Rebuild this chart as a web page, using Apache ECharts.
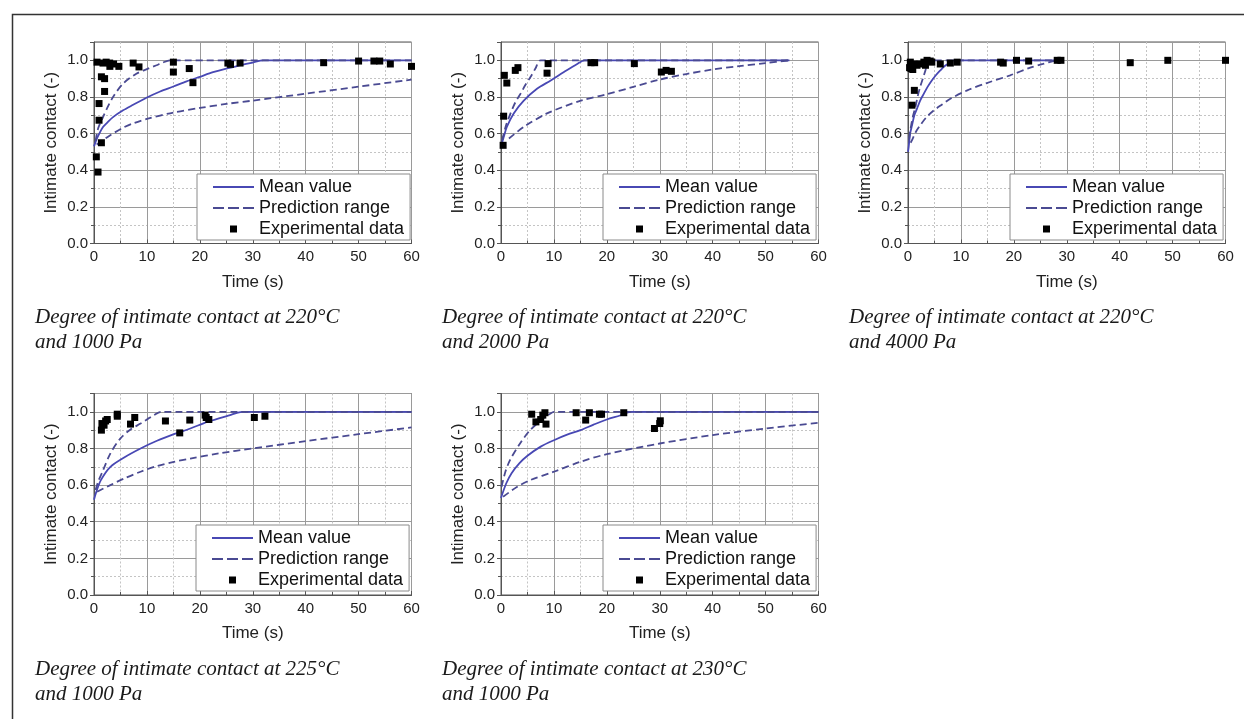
<!DOCTYPE html>
<html>
<head>
<meta charset="utf-8">
<script src="https://cdn.jsdelivr.net/npm/echarts@6/dist/echarts.min.js"></script>
<style>
html,body{margin:0;padding:0;background:#ffffff;}
#chart{width:1244px;height:719px;}
</style>
</head>
<body>
<div id="chart"></div>
<script>
// ---------- data ----------
const seriesNames = ['Mean value', 'Prediction range', 'Experimental data'];
const xAxisName = 'Time (s)';
const yAxisName = 'Intimate contact (-)';
const captionLine1 = [
  'Degree of intimate contact at 220°C',
  'Degree of intimate contact at 220°C',
  'Degree of intimate contact at 220°C',
  'Degree of intimate contact at 225°C',
  'Degree of intimate contact at 230°C'
];
const captionLine2 = ['and 1000 Pa', 'and 2000 Pa', 'and 4000 Pa', 'and 1000 Pa', 'and 1000 Pa'];

// Panel 1: 220 °C, 1000 Pa
const p1Mean = [[0,0.53],[0.5,0.57],[1,0.6],[1.7,0.636],[2.5,0.66],[3.6,0.69],[5.5,0.727],[7.4,0.757],[10,0.797],[12.5,0.83],[15,0.857],[17.5,0.885],[20,0.91],[22.5,0.935],[25,0.955],[27.5,0.972],[30,0.988],[32,1.0],[60,1.0]];
const p1Upper = [[0.3,0.56],[0.8,0.63],[1.7,0.69],[2.5,0.74],[3.6,0.8],[5.5,0.873],[8,0.927],[10,0.952],[11.8,0.973],[13,0.988],[14.5,1.0],[60,1.0]];
const p1Lower = [[0.5,0.54],[1.5,0.56],[3,0.59],[5.5,0.632],[7.5,0.657],[10,0.68],[15,0.715],[20,0.74],[25,0.762],[30,0.78],[40,0.818],[50,0.856],[60,0.895]];
const p1Exp = [[0.44,0.473],[0.76,0.39],[1.4,0.55],[0.95,0.673],[0.95,0.764],[2.0,0.83],[1.4,0.91],[2.0,0.9],[0.57,0.99],[1.7,0.985],[2.3,0.99],[2.96,0.985],[3.0,0.967],[3.7,0.98],[4.7,0.967],[7.4,0.985],[8.5,0.964],[15,0.99],[15,0.936],[18,0.955],[18.7,0.878],[25.3,0.985],[25.8,0.978],[27.6,0.985],[43.4,0.987],[50,0.996],[52.9,0.996],[54,0.996],[56,0.98],[60,0.967]];

// Panel 2: 220 °C, 2000 Pa
const p2Mean = [[0,0.53],[0.5,0.58],[1.1,0.636],[2.4,0.71],[4.3,0.78],[6.8,0.845],[9.4,0.89],[11.9,0.936],[14.4,0.98],[15.8,1.0],[54.5,1.0]];
const p2Upper = [[0.2,0.564],[1,0.65],[1.8,0.71],[2.7,0.77],[3.7,0.818],[4.6,0.865],[5.6,0.91],[6.5,0.955],[7.5,1.0],[54.5,1.0]];
const p2Lower = [[1.5,0.573],[4.3,0.636],[8.7,0.71],[15.1,0.78],[20,0.815],[25,0.855],[30,0.895],[35,0.925],[40,0.95],[45,0.968],[50,0.985],[54.5,1.0]];
const p2Exp = [[0.63,0.918],[1.1,0.876],[0.5,0.695],[0.4,0.536],[2.7,0.945],[3.2,0.96],[8.7,0.93],[8.9,0.982],[17,0.987],[17.7,0.987],[25.2,0.982],[30.3,0.936],[31.2,0.945],[32.2,0.94]];

// Panel 3: 220 °C, 4000 Pa
const p3Mean = [[0,0.5],[0.13,0.527],[0.4,0.6],[0.76,0.645],[1.2,0.7],[1.7,0.736],[2.3,0.78],[3,0.818],[3.7,0.855],[4.5,0.89],[5.3,0.92],[6.1,0.945],[7,0.97],[8,0.99],[8.7,1.0],[28,1.0]];
const p3Upper = [[0.2,0.57],[0.44,0.618],[0.9,0.69],[1.4,0.745],[1.8,0.8],[2.3,0.855],[2.8,0.9],[3.3,0.945],[3.9,1.0],[28,1.0]];
const p3Lower = [[0.5,0.55],[0.76,0.564],[1.5,0.61],[2.3,0.645],[3.5,0.69],[4.9,0.727],[6.5,0.76],[8,0.79],[11.2,0.836],[14.9,0.876],[19.3,0.918],[23.1,0.96],[25.5,0.98],[28,1.0]];
const p3Exp = [[0.3,0.96],[0.44,0.99],[0.76,0.973],[0.9,0.95],[1.1,0.98],[1.7,0.973],[2.3,0.98],[3,0.99],[3.3,0.973],[3.6,1.0],[4.2,0.996],[4.5,0.99],[6.1,0.98],[8,0.985],[9.3,0.99],[0.57,0.955],[1.2,0.836],[0.76,0.755],[17.5,0.99],[18,0.985],[20.5,1.0],[22.8,0.996],[28.2,1.0],[28.9,1.0],[42,0.987],[49.1,1.0],[60,1.0]];

// Panel 4: 225 °C, 1000 Pa
const p4Mean = [[0,0.52],[0.4,0.56],[1.3,0.627],[3.1,0.7],[5.7,0.751],[8.8,0.8],[11.9,0.842],[15.1,0.878],[18.2,0.909],[21.4,0.945],[23.6,0.964],[26,0.985],[28,1.0],[60,1.0]];
const p4Upper = [[0.3,0.573],[0.8,0.62],[1.6,0.673],[3.1,0.773],[5,0.855],[6.9,0.904],[8.8,0.936],[10,0.958],[11.3,0.982],[12.7,1.0],[60,1.0]];
const p4Lower = [[0.6,0.564],[3.1,0.6],[5.7,0.636],[8.8,0.673],[11.9,0.704],[15.1,0.727],[18.2,0.745],[23.6,0.773],[30,0.8],[40,0.84],[50,0.878],[60,0.915]];
const p4Exp = [[1.4,0.9],[1.5,0.936],[1.9,0.927],[2.2,0.95],[2.5,0.958],[4.4,0.987],[4.4,0.976],[6.9,0.933],[7.7,0.969],[13.5,0.95],[16.2,0.885],[18.1,0.955],[21.0,0.982],[21.2,0.969],[21.7,0.958],[30.3,0.969],[32.3,0.976]];

// Panel 5: 230 °C, 1000 Pa
const p5Mean = [[0,0.53],[1,0.61],[2,0.665],[3.5,0.72],[5,0.76],[7.5,0.81],[10,0.845],[12.5,0.875],[15,0.9],[17.5,0.93],[20,0.958],[22.5,0.98],[24.5,1.0],[60,1.0]];
const p5Upper = [[0.1,0.59],[0.8,0.67],[1.7,0.736],[3.6,0.827],[5.5,0.9],[8,0.964],[9.3,0.99],[10,1.0],[60,1.0]];
const p5Lower = [[0.4,0.536],[3,0.59],[5.5,0.627],[10,0.673],[15,0.727],[20,0.769],[30,0.827],[40,0.873],[50,0.909],[60,0.94]];
const p5Exp = [[5.8,0.987],[6.6,0.945],[7.5,0.958],[7.9,0.982],[8.3,0.995],[8.5,0.933],[14.2,0.995],[16,0.955],[16.7,0.995],[18.6,0.987],[19,0.987],[23.2,0.995],[29,0.909],[30,0.936],[30.1,0.951]];

// ---------- layout / style ----------
const panels = [
  {mean:p1Mean, upper:p1Upper, lower:p1Lower, exp:p1Exp},
  {mean:p2Mean, upper:p2Upper, lower:p2Lower, exp:p2Exp},
  {mean:p3Mean, upper:p3Upper, lower:p3Lower, exp:p3Exp},
  {mean:p4Mean, upper:p4Upper, lower:p4Lower, exp:p4Exp},
  {mean:p5Mean, upper:p5Upper, lower:p5Lower, exp:p5Exp}
];
const gridLeft = [94, 501, 908, 94, 501];
const gridTop = [42, 42, 42, 393.5, 393.5];
const gridW = 317.5, gridH = 201.5;
const legendLeft = [197, 603, 1010, 196, 603];
const legendTop = [174, 174, 174, 525, 525];
const captionTop = [317, 317, 317, 669, 669];

const meanColor = '#4848b4';
const dashColor = '#4a4a92';
const sans = '"Liberation Sans", Arial, sans-serif';
const serif = '"Liberation Serif", "Times New Roman", serif';

const iconSolid = 'path://M0,0M41,14M0,6h41v2h-41z';
const iconDash = 'path://M0,0M41,14M0,6h11v2h-11zM15,6h11v2h-11zM30,6h11v2h-11z';
const iconSquare = 'path://M0,0M41,14M17,3.5h7v7h-7z';

const grid = [], xAxis = [], yAxis = [], series = [], legend = [], graphic = [];

panels.forEach((p, i) => {
  grid.push({
    left: gridLeft[i], top: gridTop[i], width: gridW, height: gridH,
    show: true, borderColor: '#555', borderWidth: 1, backgroundColor: 'transparent'
  });
  xAxis.push({
    type: 'value', gridIndex: i, min: 0, max: 60, interval: 10,
    name: xAxisName, nameLocation: 'middle', nameGap: 30,
    nameTextStyle: {fontSize: 17, color: '#222', fontFamily: sans},
    axisLine: {show: true, onZero: false, lineStyle: {color: '#555', width: 1}},
    axisTick: {show: true, inside: true, length: 4, lineStyle: {color: '#555'}},
    minorTick: {show: true, splitNumber: 2, length: 3, lineStyle: {color: '#555'}},
    axisLabel: {fontSize: 15, color: '#222', margin: 6, fontFamily: sans},
    splitLine: {show: true, lineStyle: {color: '#9a9a9a', width: 1}},
    minorSplitLine: {show: true, lineStyle: {color: '#c4c4c4', width: 1, type: [2, 2]}}
  });
  yAxis.push({
    type: 'value', gridIndex: i, min: 0, max: 1.1, interval: 0.2,
    name: yAxisName, nameLocation: 'middle', nameGap: 34,
    nameTextStyle: {fontSize: 17, color: '#222', fontFamily: sans},
    axisLine: {show: true, onZero: false, lineStyle: {color: '#555', width: 1}},
    axisTick: {show: true, inside: false, length: 4, lineStyle: {color: '#555'}},
    minorTick: {show: true, splitNumber: 2, length: 3, lineStyle: {color: '#555'}},
    axisLabel: {fontSize: 15, color: '#222', margin: 6, fontFamily: sans,
      showMaxLabel: false, formatter: v => v.toFixed(1)},
    splitLine: {show: true, lineStyle: {color: '#9a9a9a', width: 1}},
    minorSplitLine: {show: true, lineStyle: {color: '#c4c4c4', width: 1, type: [2, 2]}}
  });
  series.push({
    type: 'line', name: seriesNames[0], xAxisIndex: i, yAxisIndex: i,
    data: p.mean, symbol: 'none', showSymbol: false, smooth: 0.3, silent: true,
    color: meanColor, lineStyle: {color: meanColor, width: 1.8}, z: 3
  });
  series.push({
    type: 'line', name: seriesNames[1], xAxisIndex: i, yAxisIndex: i,
    data: p.upper, symbol: 'none', showSymbol: false, smooth: 0.3, silent: true,
    color: dashColor, lineStyle: {color: dashColor, width: 1.8, type: [7, 4]}, z: 3
  });
  series.push({
    type: 'line', name: seriesNames[1], xAxisIndex: i, yAxisIndex: i,
    data: p.lower, symbol: 'none', showSymbol: false, smooth: 0.3, silent: true,
    color: dashColor, lineStyle: {color: dashColor, width: 1.8, type: [7, 4]}, z: 3
  });
  series.push({
    type: 'scatter', name: seriesNames[2], xAxisIndex: i, yAxisIndex: i,
    data: p.exp, symbol: 'rect', symbolSize: 7, silent: true,
    color: '#000', itemStyle: {color: '#000', opacity: 1}, z: 4
  });
  legend.push({
    show: true, selectedMode: false, orient: 'vertical',
    left: legendLeft[i], top: legendTop[i],
    itemWidth: 41, itemHeight: 14, itemGap: 3,
    padding: [4, 6, 2, 16],
    backgroundColor: '#ffffff', borderColor: '#8a8a8a', borderWidth: 1,
    textStyle: {fontSize: 18, color: '#111', fontFamily: sans, lineHeight: 18},
    itemStyle: {borderWidth: 0},
    data: [
      {name: seriesNames[0], icon: iconSolid, itemStyle: {color: meanColor, borderWidth: 0, opacity: 1}},
      {name: seriesNames[1], icon: iconDash, itemStyle: {color: dashColor, borderWidth: 0, opacity: 1}},
      {name: seriesNames[2], icon: iconSquare, itemStyle: {color: '#000', borderWidth: 0, opacity: 1}}
    ]
  });
  graphic.push({
    type: 'text', left: gridLeft[i] - 59, top: captionTop[i] - 12,
    style: {text: captionLine1[i] + '\n' + captionLine2[i], font: 'italic 21px ' + serif,
      fill: '#1a1a1a', lineHeight: 25}
  });
});

// outer frame of the figure (left and top edges visible)
graphic.push({
  type: 'rect', left: 10, top: 12, z: -1,
  shape: {x: 0, y: 0, width: 1400, height: 900},
  style: {fill: 'none', stroke: '#333', lineWidth: 1.5}
});

const chart = echarts.init(document.getElementById('chart'), null, {renderer: 'canvas'});
chart.setOption({
  animation: false,
  backgroundColor: '#ffffff',
  grid, xAxis, yAxis, series, legend, graphic
});
</script>
</body>
</html>
